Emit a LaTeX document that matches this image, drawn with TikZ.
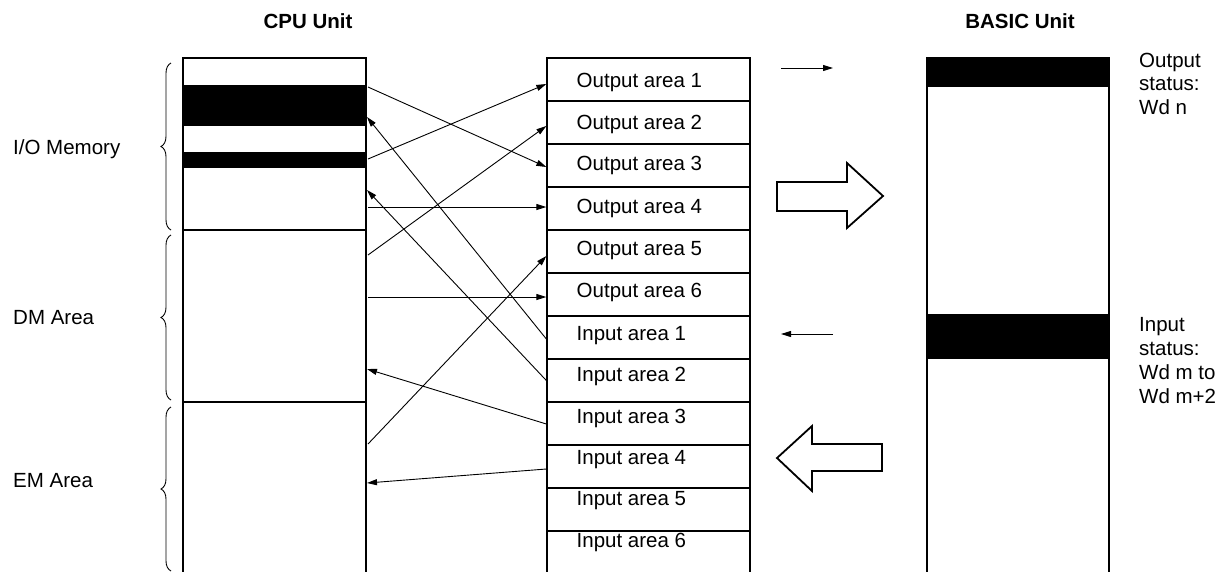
\documentclass[tikz,border=0pt]{standalone}
\usepackage{fontspec}
\setmainfont{Liberation Sans}
\usetikzlibrary{arrows.meta,decorations.pathreplacing}
\begin{document}
\begin{tikzpicture}[x=1pt,y=-1pt,
  boxline/.style={line width=1.3pt},
  rowbox/.style={draw,line width=1.3pt,minimum width=203pt,minimum height=43pt,inner sep=0pt},
  conn/.style={line width=0.9pt,-{Triangle[length=10pt,width=6pt]}},
  lbl/.style={font=\fontsize{20.5}{24}\selectfont,inner sep=0pt},
  ttl/.style={font=\fontsize{20.5}{24}\selectfont\bfseries,inner sep=0pt},
  side/.style={font=\fontsize{20.5}{23.8}\selectfont,inner sep=0pt,align=left,anchor=north west},
  bigarrow/.style={line width=1.8pt,line join=miter},
  bracestyle/.style={line width=0.9pt,decorate,decoration={brace,amplitude=10pt}}
]
\useasboundingbox (0,0) rectangle (1226,571);

% titles
\node[ttl] (tcpu) at (308,21) {CPU Unit};
\node[ttl] (tbasic) at (1020,21) {BASIC Unit};

% CPU unit memory column
\fill (183,85) rectangle (366,126);
\fill (183,152) rectangle (366,168);
\draw[boxline] (183,572) -- (183,58) -- (366,58) -- (366,572);
\draw[boxline] (183,230) -- (366,230);
\draw[boxline] (183,402) -- (366,402);

% braces and area labels
\draw[bracestyle] (171,230) -- (171,63);
\draw[bracestyle] (171,400) -- (171,235);
\draw[bracestyle] (171,571) -- (171,407);
\node[lbl,anchor=base west] (lio) at (13,154.5) {I/O Memory};
\node[lbl,anchor=base west] (ldm) at (13,324.5) {DM Area};
\node[lbl,anchor=base west] (lem) at (13,487.5) {EM Area};

% middle rows
\node[rowbox] (o1) at (648.5,79.5) {};
\node[rowbox] (o2) at (648.5,122.5) {};
\node[rowbox] (o3) at (648.5,165.5) {};
\node[rowbox] (o4) at (648.5,208.5) {};
\node[rowbox] (o5) at (648.5,251.5) {};
\node[rowbox] (o6) at (648.5,294.5) {};
\node[rowbox] (i1) at (648.5,337.5) {};
\node[rowbox] (i2) at (648.5,380.5) {};
\node[rowbox] (i3) at (648.5,423.5) {};
\node[rowbox] (i4) at (648.5,466.5) {};
\node[rowbox] (i5) at (648.5,509.5) {};
\node[rowbox] (i6) at (648.5,552.5) {};

\node[lbl,anchor=base west] (to1) at (576.5,87.3) {Output area 1};
\node[lbl,anchor=base west] (to2) at (576.5,129) {Output area 2};
\node[lbl,anchor=base west] (to3) at (576.5,170.7) {Output area 3};
\node[lbl,anchor=base west] (to4) at (576.5,213) {Output area 4};
\node[lbl,anchor=base west] (to5) at (576.5,255) {Output area 5};
\node[lbl,anchor=base west] (to6) at (576.5,297.3) {Output area 6};
\node[lbl,anchor=base west] (ti1) at (576.5,340) {Input area 1};
\node[lbl,anchor=base west] (ti2) at (576.5,381.7) {Input area 2};
\node[lbl,anchor=base west] (ti3) at (576.5,423.3) {Input area 3};
\node[lbl,anchor=base west] (ti4) at (576.5,464) {Input area 4};
\node[lbl,anchor=base west] (ti5) at (576.5,505.7) {Input area 5};
\node[lbl,anchor=base west] (ti6) at (576.5,547.3) {Input area 6};

% CPU side connector ends
\coordinate (ca) at (368,87);
\coordinate (cb) at (368,159);
\coordinate (cc) at (367,117);
\coordinate (cd) at (367,190);
\coordinate (ce) at (368,207);
\coordinate (cf) at (368,255);
\coordinate (cg) at (368,297);
\coordinate (ch) at (368,444);
\coordinate (ci) at (367,369);
\coordinate (cj) at (367,483);

\draw[conn] (ca) -- ([yshift=-1.5pt]o3.west);
\draw[conn] (cb) -- ([yshift=-4.5pt]o1.west);
\draw[conn] ([yshift=-1.5pt]i1.west) -- (cc);
\draw[conn] (i2.west) -- (cd);
\draw[conn] (ce) -- ([yshift=1.5pt]o4.west);
\draw[conn] (cf) -- ([yshift=-3.5pt]o2.west);
\draw[conn] (cg) -- ([yshift=-2.5pt]o6.west);
\draw[conn] (ch) -- ([yshift=-4.5pt]o5.west);
\draw[conn] ([yshift=-0.5pt]i3.west) -- (ci);
\draw[conn] ([yshift=-2.5pt]i4.west) -- (cj);

% small direction arrows
\coordinate (sa1) at (781,68);
\coordinate (sa2) at (833,68);
\coordinate (sb1) at (833,334);
\coordinate (sb2) at (781,334);
\draw[conn] (sa1) -- (sa2);
\draw[conn] (sb1) -- (sb2);

% big hollow arrows
\draw[bigarrow] (777,182) -- (847,182) -- (847,163) -- (883,196) -- (847,228) -- (847,211) -- (777,211) -- cycle;
\draw[bigarrow] (882,444) -- (812,444) -- (812,426) -- (777,458) -- (812,491) -- (812,471) -- (882,471) -- cycle;

% BASIC unit column
\fill (927,58) rectangle (1109,87);
\fill (927,314) rectangle (1109,359);
\draw[boxline] (927,572) -- (927,58) -- (1109,58) -- (1109,572);

\node[side] (outst) at (1139,52.5) {Output\\status:\\Wd n};
\node[side] (inst) at (1139,317.5) {Input\\status:\\Wd m to\\Wd m+2};
\end{tikzpicture}
\end{document}
